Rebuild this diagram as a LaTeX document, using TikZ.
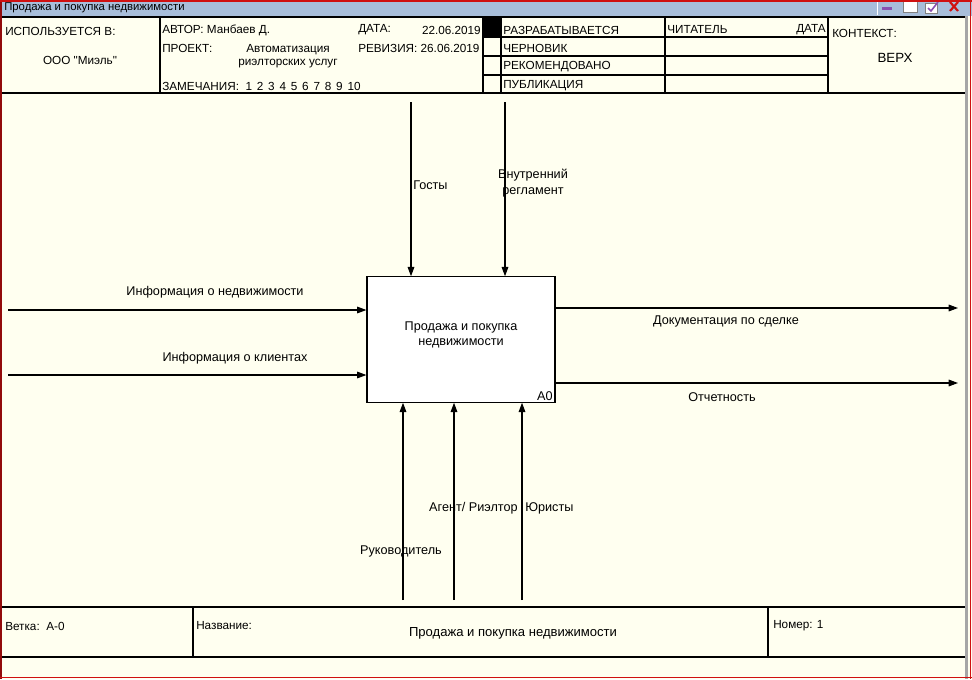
\documentclass[tikz,border=0pt]{standalone}
\usepackage{fontspec}
\setmainfont{Liberation Sans}[Ligatures=TeXOff]
\usetikzlibrary{arrows.meta}
\definecolor{paper}{HTML}{FFFFF0}
\definecolor{titlebar}{HTML}{A8BEDA}
\definecolor{winred}{HTML}{D01010}
\definecolor{iconviolet}{HTML}{8A50B0}
\newcommand{\numgap}{\hspace{3.6pt}}
\begin{document}
\begin{tikzpicture}[x=0.75pt,y=-0.75pt,
  frame/.style={line width=0.9pt},
  flow/.style={-{Triangle[length=7pt,width=5pt]},line width=0.8pt},
  lbl/.style={font=\fontsize{9.5}{11.5}\selectfont,inner sep=0pt,align=center},
  hdr/.style={font=\fontsize{8.8}{10}\selectfont,inner sep=0pt,anchor=west}]
\useasboundingbox (0,0) rectangle (972,679);
% window
\fill[paper] (0,0) rectangle (972,679);
\fill[titlebar] (0,0) rectangle (972,16);
\node[hdr,font=\fontsize{8.5}{9}\selectfont] (wintitle) at (4,7.5) {Продажа и покупка недвижимости};
\draw[white,line width=0.6pt] (877,1) -- (877,15);
\fill[iconviolet] (882,6.5) rectangle (892,9.5);
\draw[gray,fill=white] (903,1.5) rectangle (917,12);
\draw[gray,fill=white] (925,3) rectangle (937,13);
\draw[iconviolet,line width=1.2pt] (928,8) -- (931,11) -- (938,2);
\draw[winred,line width=1.6pt] (950,2) -- (958,11) (958,2) -- (950,11);
\draw[gray!70,line width=2.2pt] (966.5,16) -- (966.5,679);
\draw[winred!70!black,line width=1.6pt] (1,0) -- (1,679);
\draw[winred,line width=1.4pt] (0,0.7) -- (972,0.7) (970.5,0) -- (970.5,679) (0,677.5) -- (972,677.5);
% header
\draw[frame] (2,17) -- (965,17) (2,93) -- (965,93);
\draw[frame] (160,17) -- (160,93) (483,17) -- (483,93) (501,17) -- (501,93)
  (665,17) -- (665,93) (828,17) -- (828,93);
\draw[frame] (483,37) -- (828,37) (483,56) -- (828,56) (483,75) -- (828,75);
\fill (483,17) rectangle (501,37);
\node[hdr] (usedin) at (5,31) {ИСПОЛЬЗУЕТСЯ В:};
\node[hdr,anchor=center] (usedorg) at (80,60) {ООО "Миэль"};
\node[hdr] (author) at (162,30) {АВТОР: Манбаев Д.};
\node[hdr] (datelbl) at (358,30) {ДАТА:};
\node[hdr,anchor=east] (dateval) at (481,30) {22.06.2019};
\node[hdr] (project) at (162,48) {ПРОЕКТ:};
\node[hdr,anchor=center,align=center] (projname) at (288,56) {Автоматизация\\риэлторских услуг};
\node[hdr] (revision) at (358,48) {РЕВИЗИЯ: 26.06.2019};
\node[hdr] (notes) at (162,86) {ЗАМЕЧАНИЯ:\ \ 1\numgap 2\numgap 3\numgap 4\numgap 5\numgap 6\numgap 7\numgap 8\numgap 9\numgap 10};
\node[hdr] (working) at (503,30) {РАЗРАБАТЫВАЕТСЯ};
\node[hdr] (draft) at (503,48) {ЧЕРНОВИК};
\node[hdr] (recommended) at (503,67) {РЕКОМЕНДОВАНО};
\node[hdr] (publication) at (503,86) {ПУБЛИКАЦИЯ};
\node[hdr] (reader) at (667,30) {ЧИТАТЕЛЬ};
\node[hdr,anchor=east] (readerdate) at (826,30) {ДАТА};
\node[hdr] (context) at (832,33) {КОНТЕКСТ:};
\node[hdr,anchor=center,font=\fontsize{10}{11}\selectfont] (top) at (895,58) {ВЕРХ};
% footer
\draw[frame] (2,607) -- (965,607) (2,657) -- (965,657);
\draw[frame] (193,607) -- (193,657) (768,607) -- (768,657);
\node[hdr] (branch) at (5,626) {Ветка:\ \ А-0};
\node[hdr] (namelbl) at (196,626) {Название:};
\node[hdr,anchor=center,font=\fontsize{9.8}{11}\selectfont] (nameval) at (513,633) {Продажа и покупка недвижимости};
\node[hdr] (number) at (773,626) {Номер: 1};
% activity
\node[draw,frame,fill=white,minimum width=141pt,minimum height=94pt,inner sep=0pt] (A0box) at (461,339.5) {};
\node[lbl] (A0name) at (461,335) {Продажа и покупка\\недвижимости};
\node[lbl,anchor=south east] (A0code) at ([xshift=-2pt,yshift=1.5pt]A0box.south east) {A0};
% controls
\coordinate (gosttop) at (411,102);
\coordinate (regtop) at (505,102);
\draw[flow] (gosttop) -- (gosttop |- A0box.north);
\draw[flow] (regtop) -- (regtop |- A0box.north);
\node[lbl,anchor=west] (gost) at (413,185) {Госты};
\node[lbl] (reg) at (533,183) {Внутренний\\регламент};
% inputs
\coordinate (estatein) at (8,310);
\coordinate (clientin) at (8,375);
\draw[flow] (estatein) -- (estatein -| A0box.west);
\draw[flow] (clientin) -- (clientin -| A0box.west);
\node[lbl] (estate) at (215,292) {Информация о недвижимости};
\node[lbl] (client) at (235,358) {Информация о клиентах};
% outputs
\coordinate (docsout) at (958,308);
\coordinate (reportout) at (958,383);
\draw[flow] (A0box.east |- docsout) -- (docsout);
\draw[flow] (A0box.east |- reportout) -- (reportout);
\node[lbl] (docs) at (726,321) {Документация по сделке};
\node[lbl] (report) at (722,397) {Отчетность};
% mechanisms
\coordinate (headbot) at (403,600);
\coordinate (agentbot) at (454,600);
\coordinate (lawbot) at (522,600);
\draw[flow] (headbot) -- (headbot |- A0box.south);
\draw[flow] (agentbot) -- (agentbot |- A0box.south);
\draw[flow] (lawbot) -- (lawbot |- A0box.south);
\node[lbl] (head) at (401,551) {Руководитель};
\node[lbl,anchor=east] (agent) at (518,508) {Агент/ Риэлтор};
\node[lbl,anchor=west] (law) at (525,508) {Юристы};
\end{tikzpicture}
\end{document}
